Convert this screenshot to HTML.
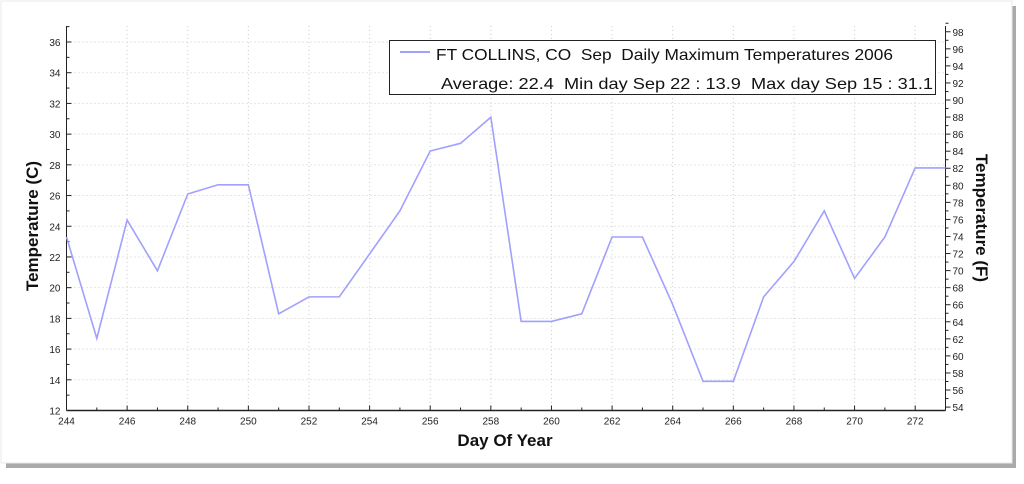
<!DOCTYPE html>
<html><head><meta charset="utf-8"><style>
body{margin:0;background:#fff;width:1024px;height:479px;overflow:hidden;font-family:"Liberation Sans",sans-serif}
text{white-space:pre}
</style></head><body>
<svg id="chart" width="1024" height="479" xmlns="http://www.w3.org/2000/svg" font-family="Liberation Sans, sans-serif" xml:space="preserve">
<rect x="6" y="6" width="1010" height="462" fill="#555" opacity="0.5"/>
<rect x="1" y="1" width="1011" height="462" fill="#fff" stroke="#e8e8e8"/>
<g id="grid"></g>
<g id="axes"></g>
<polyline id="series" fill="none" stroke="#a0a0ff" stroke-width="1.6"/>
<g>
<rect x="389.5" y="40.5" width="546" height="54" fill="#fff" stroke="#222"/>
<line x1="400" y1="52" x2="430" y2="52" stroke="#a0a0ff" stroke-width="2"/>
<text x="436" y="60" font-size="16" fill="#111" textLength="457" lengthAdjust="spacingAndGlyphs">FT COLLINS, CO  Sep  Daily Maximum Temperatures 2006</text>
<text x="441" y="89" font-size="16" fill="#111" textLength="492" lengthAdjust="spacingAndGlyphs">Average: 22.4  Min day Sep 22 : 13.9  Max day Sep 15 : 31.1</text>
</g>
<text x="505" y="446" font-size="17" font-weight="bold" text-anchor="middle" fill="#111">Day Of Year</text>
<text transform="translate(38,226) rotate(-90)" font-size="17" font-weight="bold" text-anchor="middle" fill="#111">Temperature (C)</text>
<text transform="translate(976,218) rotate(90)" font-size="17" font-weight="bold" text-anchor="middle" fill="#111">Temperature (F)</text>
</svg>
<script>
const days=[244,245,246,247,248,249,250,251,252,253,254,255,256,257,258,259,260,261,262,263,264,265,266,267,268,269,270,271,272,273];
const temps=[23.3,16.7,24.4,21.1,26.1,26.7,26.7,18.3,19.4,19.4,22.2,25.0,28.9,29.4,31.1,17.8,17.8,18.3,23.3,23.3,18.9,13.9,13.9,19.4,21.7,25.0,20.6,23.3,27.8,27.8];
const xTicks=[244,246,248,250,252,254,256,258,260,262,264,266,268,270,272];
const yTicks=[12,14,16,18,20,22,24,26,28,30,32,34,36];
const fTicks=[54,56,58,60,62,64,66,68,70,72,74,76,78,80,82,84,86,88,90,92,94,96,98];
const X0=66.5,X1=945.5,Y0=410.5,YT=26;
const xs=d=>X0+(d-244)*(X1-X0)/29;
const ys=c=>Y0-(c-12)*(410.5-42)/24;
const yf=f=>ys((f-32)/1.8);
const NS='http://www.w3.org/2000/svg';
const grid=document.getElementById('grid'),axes=document.getElementById('axes');
function mk(tag,attrs,parent){const e=document.createElementNS(NS,tag);for(const k in attrs)e.setAttribute(k,attrs[k]);parent.appendChild(e);return e;}
xTicks.forEach(t=>{
 const g=mk('line',{x1:xs(t),x2:xs(t),y1:YT,y2:Y0,stroke:'#ccc','stroke-dasharray':'1,3'},grid);
 
 
 const tk=mk('line',{x1:xs(t),x2:xs(t),y1:Y0,y2:Y0-5,stroke:'#222'},axes);
 
 
 const tx=mk('text',{x:xs(t),y:Y0+14,'font-size':10,'text-anchor':'middle',fill:'#222'},axes);
 tx.textContent=t;
 
 
});
for(let d=245;d<=273;d+=2){const m=mk('line',{x1:xs(d),x2:xs(d),y1:Y0,y2:Y0-3,stroke:'#222'},axes);
 
 }
yTicks.forEach(t=>{
 if(t>12){const g=mk('line',{x1:X0,x2:X1,y1:ys(t),y2:ys(t),stroke:'#ccc','stroke-dasharray':'1,3'},grid);
 
 }
 const tk=mk('line',{x1:X0,x2:X0+5,y1:ys(t),y2:ys(t),stroke:'#222'},axes);
 
 
 const m=mk('line',{x1:X0,x2:X0+3,y1:ys(t+1),y2:ys(t+1),stroke:'#222'},axes);
 
 
 const tx=mk('text',{x:X0-6,y:ys(t)+4,'font-size':10,'text-anchor':'end',fill:'#222'},axes);
 tx.textContent=t;
 
 
});
fTicks.forEach(t=>{
 const tk=mk('line',{x1:X1,x2:X1+5,y1:yf(t),y2:yf(t),stroke:'#222'},axes);
 
 
 const m=mk('line',{x1:X1,x2:X1+3,y1:yf(t+1),y2:yf(t+1),stroke:'#222'},axes);
 
 
 const tx=mk('text',{x:X1+7,y:yf(t)+4,'font-size':10,fill:'#222'},axes);
 tx.textContent=t;
 
 
});
const la=mk('line',{x1:X0,x2:X0,y1:YT,y2:Y0,stroke:'#222'},axes);


const ra=mk('line',{x1:X1,x2:X1,y1:YT,y2:Y0,stroke:'#222'},axes);


const ba=mk('line',{x1:X0,x2:X1,y1:Y0,y2:Y0,stroke:'#222','stroke-width':1.5},axes);


document.getElementById('series').setAttribute('points',days.map((d,i)=>xs(d)+','+ys(temps[i])).join(' '));
</script>
</body></html>
